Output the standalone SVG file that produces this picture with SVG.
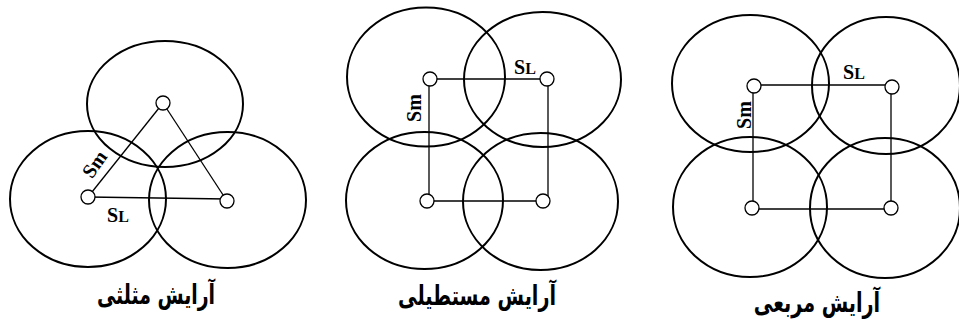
<svg xmlns="http://www.w3.org/2000/svg" width="959" height="322" viewBox="0 0 959 322">
<style>
.ring{fill:none;stroke:#000;stroke-width:2}
.node{fill:#fff;stroke:#000;stroke-width:1.3}
.link{stroke:#000;stroke-width:1.3;fill:none}
.lbl{font-family:"Liberation Serif",serif;font-weight:bold;font-size:20px;fill:#000}
.sub{font-size:16px}
.cap{font-family:"DejaVu Sans",sans-serif;font-weight:bold;font-size:27px;fill:#000;text-anchor:middle}
</style>
<rect width="959" height="322" fill="#fff"/>
<g id="triangle">
  <ellipse class="ring" cx="165" cy="104" rx="78" ry="63"/>
  <ellipse class="ring" cx="88" cy="199" rx="78" ry="68"/>
  <ellipse class="ring" cx="227.5" cy="200" rx="78.5" ry="68"/>
  <g class="connectors">
    <line class="link" x1="88" y1="197" x2="163" y2="103"/>
    <line class="link" x1="163" y1="103" x2="227" y2="201"/>
    <line class="link" x1="88" y1="197" x2="227" y2="199"/>
  </g>
  <g id="tri-n1"><circle class="node" cx="163" cy="103" r="7"/></g>
  <g id="tri-n2"><circle class="node" cx="88" cy="197" r="7"/></g>
  <g id="tri-n3"><circle class="node" cx="227" cy="201" r="7"/></g>
  <text class="lbl" transform="translate(100,168) rotate(-55)" text-anchor="middle">Sm</text>
  <text class="lbl" x="118" y="222" text-anchor="middle">S<tspan class="sub">L</tspan></text>
  <text class="cap" transform="translate(156,304) scale(0.7,1)" direction="rtl">آرایش مثلثی</text>
</g>
<g id="rectangular">
  <ellipse class="ring" cx="426" cy="77" rx="79" ry="69.5"/>
  <ellipse class="ring" cx="542.5" cy="79.5" rx="78.5" ry="67.5"/>
  <ellipse class="ring" cx="424.5" cy="200.5" rx="78.5" ry="68.5"/>
  <ellipse class="ring" cx="540.5" cy="201.5" rx="77.5" ry="68.5"/>
  <g class="connectors">
    <line class="link" x1="430" y1="79" x2="547" y2="79"/>
    <line class="link" x1="429" y1="79" x2="429" y2="201"/>
    <line class="link" x1="427" y1="201" x2="543" y2="201"/>
    <line class="link" x1="548" y1="79" x2="548" y2="201"/>
  </g>
  <g id="rect-n1"><circle class="node" cx="430" cy="79" r="7"/></g>
  <g id="rect-n2"><circle class="node" cx="547" cy="79" r="7"/></g>
  <g id="rect-n3"><circle class="node" cx="427" cy="201" r="7"/></g>
  <g id="rect-n4"><circle class="node" cx="543" cy="201" r="7"/></g>
  <text class="lbl" transform="translate(421,108) rotate(-90)" text-anchor="middle">Sm</text>
  <text class="lbl" x="525" y="74" text-anchor="middle">S<tspan class="sub">L</tspan></text>
  <text class="cap" transform="translate(477,305) scale(0.71,1)" direction="rtl">آرایش مستطیلی</text>
</g>
<g id="square">
  <ellipse class="ring" cx="750.5" cy="83.5" rx="78.5" ry="68.5"/>
  <ellipse class="ring" cx="886" cy="85.5" rx="74" ry="68.5"/>
  <ellipse class="ring" cx="750" cy="207" rx="77" ry="70"/>
  <ellipse class="ring" cx="885" cy="208" rx="75" ry="70"/>
  <g class="connectors">
    <line class="link" x1="754" y1="85" x2="892" y2="85"/>
    <line class="link" x1="753" y1="86" x2="753" y2="208"/>
    <line class="link" x1="752" y1="209" x2="891" y2="209"/>
    <line class="link" x1="891" y1="87" x2="891" y2="208"/>
  </g>
  <g id="sq-n1"><circle class="node" cx="754" cy="86" r="7"/></g>
  <g id="sq-n2"><circle class="node" cx="892" cy="87" r="7"/></g>
  <g id="sq-n3"><circle class="node" cx="752" cy="208" r="7"/></g>
  <g id="sq-n4"><circle class="node" cx="891" cy="208" r="7"/></g>
  <text class="lbl" transform="translate(751,115) rotate(-90)" text-anchor="middle">Sm</text>
  <text class="lbl" x="854" y="79" text-anchor="middle">S<tspan class="sub">L</tspan></text>
  <text class="cap" transform="translate(817,312) scale(0.71,1)" direction="rtl">آرایش مربعی</text>
</g>
</svg>
